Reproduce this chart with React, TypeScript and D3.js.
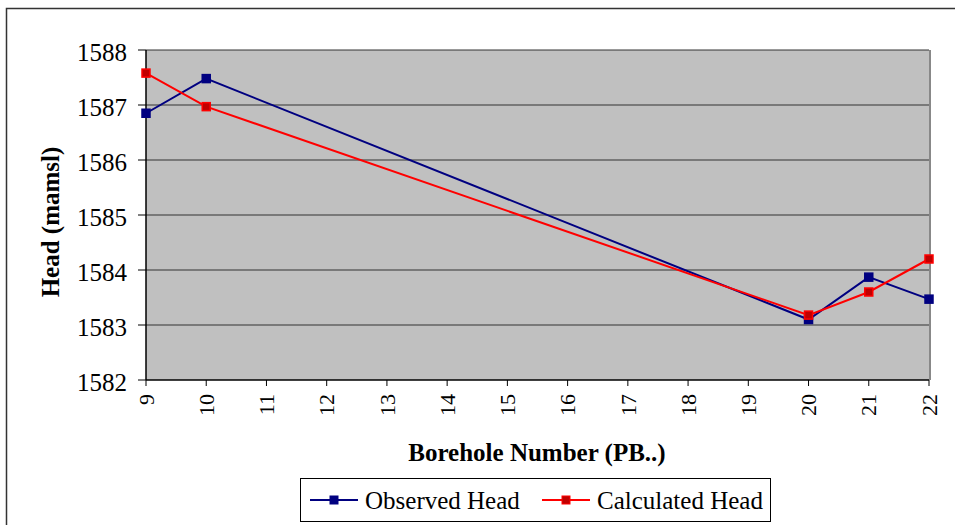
import React from "react";
import * as d3 from "d3";

const boreholes = [9, 10, 20, 21, 22];
const observedHead = [1586.85, 1587.48, 1583.1, 1583.87, 1583.47];
const calculatedHead = [1587.58, 1586.97, 1583.18, 1583.6, 1584.2];
const xTicks = d3.range(9, 23);
const yTicks = [1582, 1583, 1584, 1585, 1586, 1587, 1588];

const W = 955, H = 525;
const M = { left: 146, right: 929, top: 50, bottom: 380 };
const font = "Liberation Serif, Times New Roman, Times, serif";

export default function App() {
  const x = d3.scaleLinear().domain([9, 22]).range([M.left, M.right]);
  const y = d3.scaleLinear().domain([1582, 1588]).range([M.bottom, M.top]);
  const line = d3.line<number>().x((_, i) => x(boreholes[i])).y((d) => y(d));
  const series = [
    { name: "Observed Head", values: observedHead, color: "#000080", fill: "#000080" },
    { name: "Calculated Head", values: calculatedHead, color: "#ff0000", fill: "#c00000" },
  ];
  return (
    <svg width={W} height={H} style={{ position: "absolute", left: 0, top: 0, fontFamily: font }}>
      <rect x={0} y={0} width={W} height={H} fill="#fff" />
      <rect x={6.5} y={8.5} width={W + 10} height={H + 10} fill="#fff" stroke="#333" strokeWidth={1.5} />
      <rect x={M.left} y={M.top} width={M.right - M.left} height={M.bottom - M.top} fill="#c0c0c0" />
      <line x1={M.right + 1} x2={M.right + 1} y1={M.top} y2={M.bottom} stroke="#888" strokeWidth={2} />
      {yTicks.map((t) => (
        <g key={t}>
          {t !== 1582 && (
            <line x1={M.left} x2={M.right} y1={y(t)} y2={y(t)} stroke="#333" strokeWidth={1} />
          )}
          <line x1={M.left - 8} x2={M.left} y1={y(t)} y2={y(t)} stroke="#000" strokeWidth={1} />
          <text x={M.left - 19} y={y(t) + 2} dy="0.35em" textAnchor="end" style={{ fontFamily: font }} fontSize={25} fill="#000">
            {t}
          </text>
        </g>
      ))}
      <line x1={M.left} x2={M.left} y1={M.top} y2={M.bottom} stroke="#000" strokeWidth={1.5} />
      <line x1={M.left} x2={M.right} y1={M.bottom} y2={M.bottom} stroke="#000" strokeWidth={1.5} />
      {xTicks.map((t) => (
        <g key={t}>
          <line x1={x(t)} x2={x(t)} y1={M.bottom} y2={M.bottom + 6} stroke="#000" strokeWidth={1} />
          <text
            transform={`translate(${x(t)},${M.bottom + 14}) rotate(-90)`}
            dy="0.35em"
            textAnchor="end"
            style={{ fontFamily: font }}
            fontSize={22}
            fill="#000"
          >
            {t}
          </text>
        </g>
      ))}
      {series.map((s) => (
        <g key={s.name}>
          <path d={line(s.values) || ""} fill="none" stroke={s.color} strokeWidth={2} />
          {s.values.map((v, i) => (
            <rect key={i} x={x(boreholes[i]) - 4} y={y(v) - 4} width={8} height={8} fill={s.fill} stroke={s.color} strokeWidth={1.5} />
          ))}
        </g>
      ))}
      <text
        transform={`translate(50,${(M.top + M.bottom) / 2 + 7}) rotate(-90)`}
        textAnchor="middle"
        dy="0.35em"
        style={{ fontFamily: font }}
        fontWeight="bold"
        fontSize={25}
        fill="#000"
      >
        Head (mamsl)
      </text>
      <text x={537} y={452} dy="0.35em" textAnchor="middle" style={{ fontFamily: font }} fontWeight="bold" fontSize={25} fill="#000">
        Borehole Number (PB..)
      </text>
      <g>
        <rect x={300.5} y={478.5} width={470} height={43} fill="#fff" stroke="#000" strokeWidth={1} />
        {series.map((s, i) => {
          const lx = i === 0 ? 310 : 542;
          return (
            <g key={s.name}>
              <line x1={lx} x2={lx + 48} y1={500} y2={500} stroke={s.color} strokeWidth={2} />
              <rect x={lx + 20} y={496} width={8} height={8} fill={s.fill} stroke={s.color} strokeWidth={1} />
              <text x={lx + 55} y={500} dy="0.35em" style={{ fontFamily: font }} fontSize={25} fill="#000">
                {s.name}
              </text>
            </g>
          );
        })}
      </g>
    </svg>
  );
}
